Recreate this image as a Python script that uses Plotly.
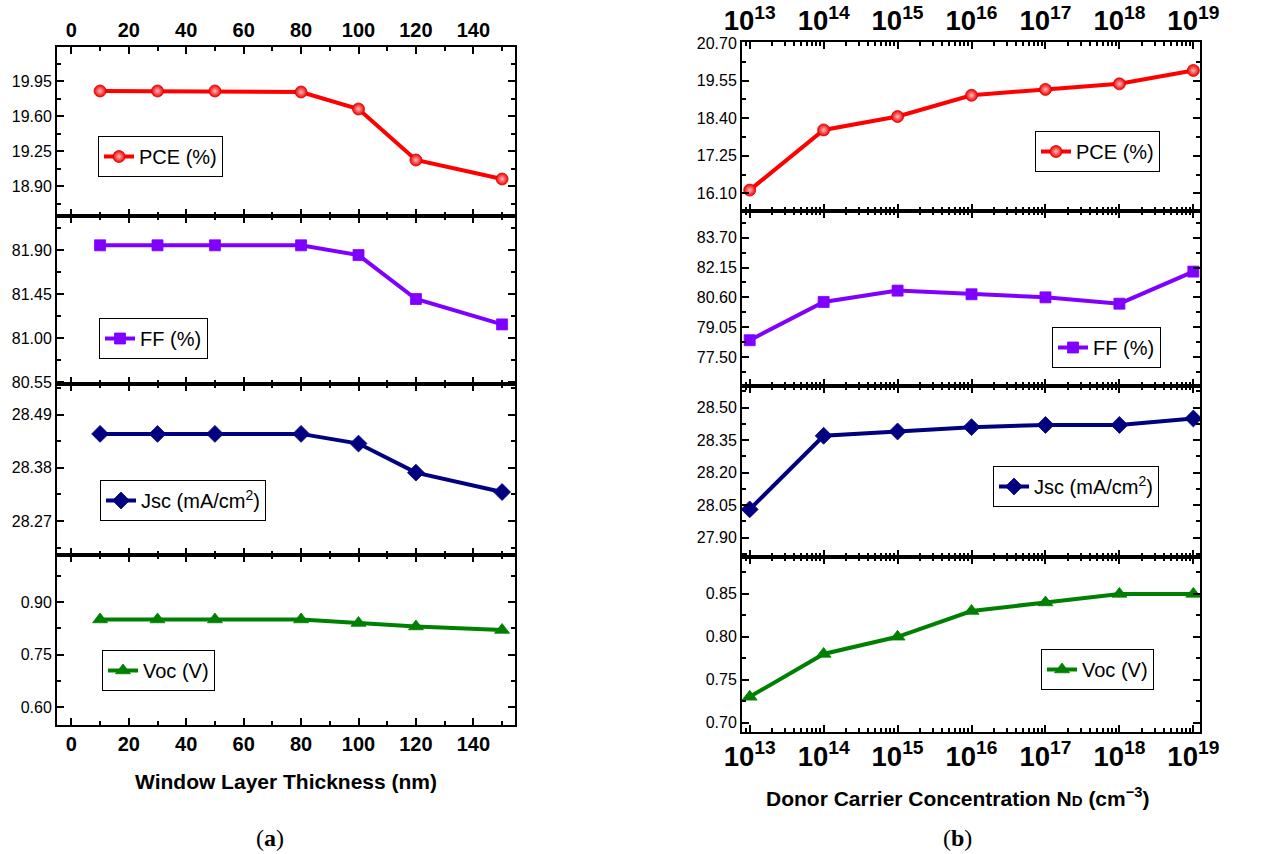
import plotly.graph_objects as go

# ---------------- data ----------------
thickness = [10, 30, 50, 80, 100, 120, 150]
pce_a = [19.85, 19.85, 19.85, 19.84, 19.67, 19.16, 18.97]
ff_a = [81.95, 81.95, 81.95, 81.95, 81.85, 81.40, 81.14]
jsc_a = [28.45, 28.45, 28.45, 28.45, 28.43, 28.37, 28.33]
voc_a = [0.85, 0.85, 0.85, 0.85, 0.84, 0.83, 0.82]

donor_nd = [1e13, 1e14, 1e15, 1e16, 1e17, 1e18, 1e19]
pce_b = [16.20, 18.04, 18.45, 19.10, 19.28, 19.45, 19.86]
ff_b = [78.37, 80.36, 80.95, 80.76, 80.60, 80.27, 81.94]
jsc_b = [28.03, 28.37, 28.39, 28.41, 28.42, 28.42, 28.45]
voc_b = [0.73, 0.78, 0.80, 0.83, 0.84, 0.85, 0.85]

names = ["PCE (%)", "FF (%)", "Jsc (mA/cm<sup>2</sup>)", "Voc (V)"]
colors = ["#ff0000", "#8000ff", "#000080", "#008000"]
symbols = ["circle", "square", "diamond", "triangle-up"]
msizes = [11, 11, 13, 13]

W, H = 1267, 854
FONT = "Liberation Sans, Arial, sans-serif"

fig = go.Figure()

series_a = [pce_a, ff_a, jsc_a, voc_a]
series_b = [pce_b, ff_b, jsc_b, voc_b]


def marker(i):
    m = dict(symbol=symbols[i], size=msizes[i], color=colors[i],
             line=dict(width=0.8, color=colors[i]))
    if i == 0:
        m = dict(symbol="circle", size=12, color="#f00000",
                 gradient=dict(type="radial", color="#ffb8b8"),
                 line=dict(width=0.8, color="#e00000"))
    return m


legend_ids = ["legend", "legend2", "legend3", "legend4",
              "legend5", "legend6", "legend7", "legend8"]

for i in range(4):
    fig.add_trace(go.Scatter(
        x=thickness, y=series_a[i], mode="lines+markers", name=names[i],
        line=dict(color=colors[i], width=4), marker=marker(i),
        xaxis="x%d" % (i + 1) if i else "x", yaxis="y%d" % (i + 1) if i else "y",
        legend=legend_ids[i], showlegend=True))
for i in range(4):
    k = i + 5
    fig.add_trace(go.Scatter(
        x=donor_nd, y=series_b[i], mode="lines+markers", name=names[i],
        line=dict(color=colors[i], width=4), marker=marker(i),
        xaxis="x%d" % k, yaxis="y%d" % k, legend=legend_ids[i + 4],
        showlegend=True))

# ---------------- geometry ----------------
def px_x(a, b):
    return [a / W, b / W]


def px_y(top, bot):
    return [1 - bot / H, 1 - top / H]


left_x = px_x(57, 515)
right_x = px_x(742, 1200)
left_y = [px_y(47, 216), px_y(216, 384), px_y(384, 555), px_y(555, 725)]
right_y = [px_y(42, 211), px_y(211, 386), px_y(386, 557), px_y(557, 732)]

yr_a = [[18.60, 20.29], [80.53, 82.25], [28.20, 28.553], [0.549, 1.034]]
yt_a = [(18.90, 0.35), (80.55, 0.45), (28.27, 0.11), (0.60, 0.15)]
yr_b = [[15.56, 20.73], [75.99, 85.09], [27.81, 28.60], [0.689, 0.893]]
yt_b = [(16.10, 1.15), (77.50, 1.55), (27.90, 0.15), (0.70, 0.05)]

axis_common = dict(showline=True, linewidth=2, linecolor="black", mirror="ticks",
                   ticks="inside", ticklen=7, tickwidth=1.5, tickcolor="black",
                   showgrid=False, zeroline=False, automargin=False)

layout = dict(template="none", width=W, height=H, autosize=False,
              margin=dict(l=0, r=0, t=0, b=0, pad=0),
              paper_bgcolor="white", plot_bgcolor="white", showlegend=True,
              font=dict(family=FONT, color="black"))

for i in range(4):
    # left panels
    xa = "xaxis" if i == 0 else "xaxis%d" % (i + 1)
    ya = "yaxis" if i == 0 else "yaxis%d" % (i + 1)
    yname = "y" if i == 0 else "y%d" % (i + 1)
    xname = "x" if i == 0 else "x%d" % (i + 1)
    layout[xa] = dict(axis_common, domain=left_x, anchor=yname, range=[-5, 154.5],
                      tick0=0, dtick=20,
                      minor=dict(dtick=10, ticks="inside", ticklen=4, tickwidth=1.5,
                                 tickcolor="black"),
                      showticklabels=(i in (0, 3)),
                      side="top" if i == 0 else "bottom",
                      tickfont=dict(size=20, weight="bold", family=FONT, color="black"))
    t0, dt = yt_a[i]
    layout[ya] = dict(axis_common, domain=left_y[i], anchor=xname, range=yr_a[i],
                      tick0=t0, dtick=dt, tickformat=".2f",
                      minor=dict(dtick=dt / 2, ticks="inside", ticklen=4, tickwidth=1.5,
                                 tickcolor="black"),
                      tickfont=dict(size=16, family=FONT, color="black"))
    # right panels
    k = i + 5
    layout["xaxis%d" % k] = dict(axis_common, domain=right_x, anchor="y%d" % k,
                                 type="log", range=[12.896, 19.09], dtick=1,
                                 exponentformat="power",
                                 minor=dict(dtick="D1", ticks="inside", ticklen=4,
                                            tickwidth=1.5, tickcolor="black"),
                                 showticklabels=(i in (0, 3)),
                                 side="top" if i == 0 else "bottom",
                                 tickfont=dict(size=22, weight="bold", family=FONT,
                                               color="black"))
    t0, dt = yt_b[i]
    layout["yaxis%d" % k] = dict(axis_common, domain=right_y[i], anchor="x%d" % k,
                                 range=yr_b[i], tick0=t0, dtick=dt, tickformat=".2f",
                                 minor=dict(dtick=dt / 2, ticks="inside", ticklen=4,
                                            tickwidth=1.5, tickcolor="black"),
                                 tickfont=dict(size=16, family=FONT, color="black"))

# legends (top-left corners in pixels)
leg_pos = [(98, 136), (99, 318), (100, 480), (102, 650),
           (1035, 131), (1052, 327), (993, 466), (1041, 649)]
for lid, (lx, ly) in zip(legend_ids, leg_pos):
    layout[lid] = dict(x=lx / W, y=1 - ly / H, xanchor="left", yanchor="top",
                       bgcolor="white", bordercolor="black", borderwidth=1,
                       font=dict(size=20, family=FONT, color="black"),
                       tracegroupgap=0)

fig.update_layout(**layout)

ann = [
    dict(text="<b>Window Layer Thickness (nm)</b>", x=285.5 / W, y=1 - 781 / H,
         font=dict(size=21, family=FONT, color="black")),
    dict(text="<b>Donor Carrier Concentration N<span style='font-size:15px'>D</span> (cm<sup>−3</sup>)</b>",
         x=957 / W, y=1 - 797 / H, font=dict(size=21, family=FONT, color="black")),
    dict(text="(<b>a</b>)", x=270 / W, y=1 - 838 / H,
         font=dict(size=24, family="Liberation Serif, Times New Roman, serif",
                   color="black")),
    dict(text="(<b>b</b>)", x=957 / W, y=1 - 838 / H,
         font=dict(size=24, family="Liberation Serif, Times New Roman, serif",
                   color="black")),
]
for a in ann:
    fig.add_annotation(xref="paper", yref="paper", showarrow=False,
                       xanchor="center", yanchor="middle", **a)

fig.write_html("out.html")
